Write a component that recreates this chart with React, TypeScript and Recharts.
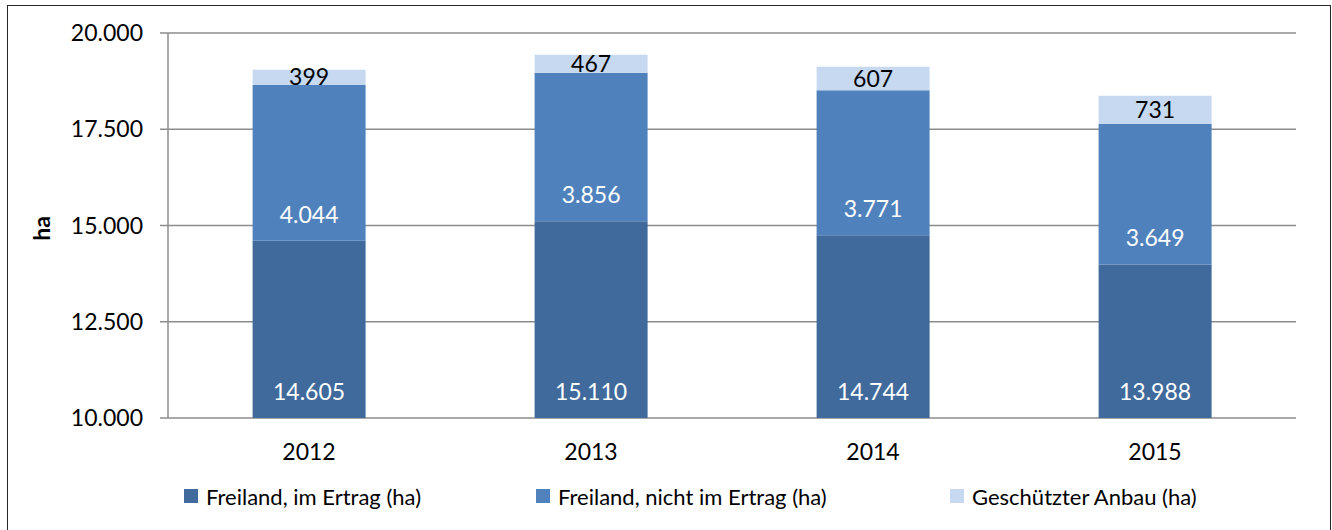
import React from 'react';
import { BarChart, Bar, XAxis, YAxis, CartesianGrid, LabelList } from 'recharts';

const years = ['2012', '2013', '2014', '2015'];
const freilandImErtrag = [14605, 15110, 14744, 13988];
const freilandNichtImErtrag = [4044, 3856, 3771, 3649];
const geschuetzterAnbau = [399, 467, 607, 731];
const yTicks = [10000, 12500, 15000, 17500, 20000];
const seriesNames = ['Freiland, im Ertrag (ha)', 'Freiland, nicht im Ertrag (ha)', 'Geschützter Anbau (ha)'];
const yAxisTitle = 'ha';
const boundaryTicks = [0, 1, 2, 3, 4];

const COLORS = ['#40699C', '#4F81BD', '#C6D9F1'];
const GRID = '#8C8C8C';
const FONT = 'Lato, "Noto Sans", sans-serif';
const NUM_SIZE = 23;

const data = years.map((y, i) => ({
  year: y,
  a: freilandImErtrag[i],
  b: freilandNichtImErtrag[i],
  c: geschuetzterAnbau[i],
}));

const de = (v: any) => String(v).replace(/\B(?=(\d{3})+(?!\d))/g, '.');

const YTitle = (props: any) => {
  const vb = props.viewBox || { x: 0, y: 0, width: 0, height: 0 };
  const cx = vb.x + 41;
  const cy = vb.y + vb.height / 2 + 3;
  return (
    <text
      x={cx}
      y={cy}
      transform={`rotate(-90 ${cx} ${cy})`}
      textAnchor="middle"
      dominantBaseline="central"
      fontFamily={FONT}
      fontWeight="bold"
      fontSize={23}
      fill="#000"
    >
      {yAxisTitle}
    </text>
  );
};

const legendPos = [184, 536, 950];

export default function App() {
  return (
    <div style={{ position: 'absolute', left: 0, top: 0, width: 1332, height: 530, overflow: 'hidden', background: '#fff', fontFamily: FONT }}>
      <div style={{ position: 'absolute', left: 7, top: 5, width: 1324, height: 540, border: '1px solid #262626', boxSizing: 'border-box' }} />
      <div style={{ position: 'absolute', left: 0, top: 0 }}>
        <BarChart
          width={1332}
          height={530}
          data={data}
          margin={{ top: 33, right: 36, left: 0, bottom: 72 }}
          barCategoryGap="30%"
        >
          <CartesianGrid vertical={false} stroke={GRID} strokeWidth={1.5} />
          <XAxis
            xAxisId={0}
            type="number"
            domain={[0, 4]}
            ticks={boundaryTicks}
            tick={false}
            tickSize={8}
            tickLine={{ stroke: GRID, strokeWidth: 1.5 }}
            axisLine={{ stroke: GRID, strokeWidth: 1.5 }}
            height={0}
            allowDataOverflow
          />
          <XAxis
            xAxisId={1}
            dataKey="year"
            type="category"
            tickLine={false}
            tickSize={0}
            axisLine={false}
            tickMargin={26}
            height={40}
            tick={{ fill: '#000', fontSize: NUM_SIZE, fontFamily: FONT }}
          />
          <YAxis
            domain={[10000, 20000]}
            ticks={yTicks}
            allowDataOverflow
            width={168}
            tickSize={8}
            tickMargin={17}
            tickFormatter={de}
            tickLine={{ stroke: GRID, strokeWidth: 1.5 }}
            axisLine={{ stroke: GRID, strokeWidth: 1.5 }}
            tick={{ fill: '#000', fontSize: NUM_SIZE, fontFamily: FONT }}
            label={{ content: YTitle }}
          />
          <Bar xAxisId={1} dataKey="a" stackId="s" fill={COLORS[0]} isAnimationActive={false}>
            <LabelList dataKey="a" position="insideBottom" offset={18} formatter={de} fill="#fff" fontSize={NUM_SIZE} fontFamily={FONT} />
          </Bar>
          <Bar xAxisId={1} dataKey="b" stackId="s" fill={COLORS[1]} isAnimationActive={false}>
            <LabelList dataKey="b" position="insideBottom" offset={18} formatter={de} fill="#fff" fontSize={NUM_SIZE} fontFamily={FONT} />
          </Bar>
          <Bar xAxisId={1} dataKey="c" stackId="s" fill={COLORS[2]} isAnimationActive={false}>
            <LabelList dataKey="c" position="center" formatter={de} fill="#000" fontSize={NUM_SIZE} fontFamily={FONT} />
          </Bar>
        </BarChart>
      </div>
      {seriesNames.map((name, i) => (
        <div
          key={name}
          style={{ position: 'absolute', left: legendPos[i], top: 483, height: 26, display: 'flex', alignItems: 'center', fontSize: 22, color: '#000', whiteSpace: 'nowrap' }}
        >
          <span style={{ display: 'inline-block', width: 14, height: 14, background: COLORS[i], marginRight: 8 }} />
          <span>{name}</span>
        </div>
      ))}
    </div>
  );
}
